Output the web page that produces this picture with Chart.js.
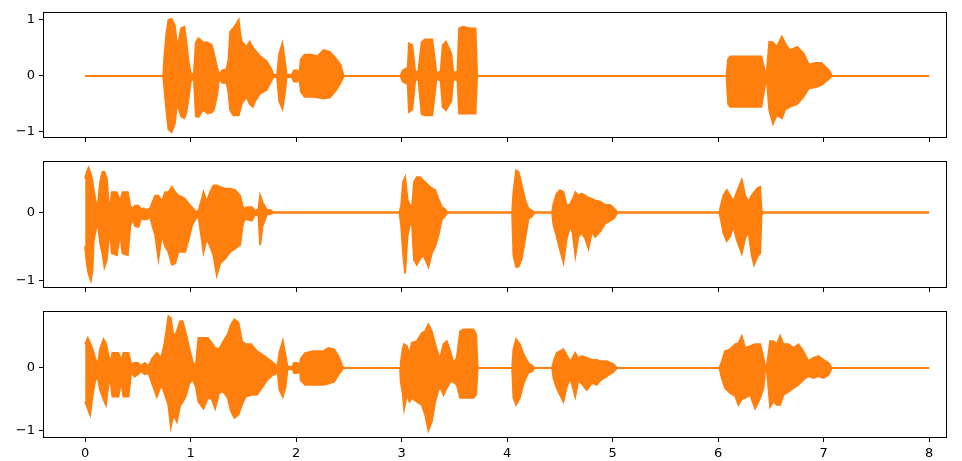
<!DOCTYPE html>
<html>
<head>
<meta charset="utf-8">
<script src="https://cdn.jsdelivr.net/npm/chart.js@4/dist/chart.umd.min.js"></script>
<style>
  body { margin: 0; background: #fff; width: 962px; height: 461px; overflow: hidden; position: relative; }
  canvas { position: absolute; left: 0; }
</style>
</head>
<body>
<canvas id="wave1" width="962" height="150" style="top:0px"></canvas>
<canvas id="wave2" width="962" height="150" style="top:150px"></canvas>
<canvas id="wave3" width="962" height="161" style="top:300px"></canvas>
<script>
const ORANGE = "#ff7f0e";

const xTicks = [0, 1, 2, 3, 4, 5, 6, 7, 8];
const yTicks = [-1, 0, 1];

// envelope of each waveform: time (s), upper peak, lower peak
const time1 = [0, 0.74, 0.75, 0.77, 0.79, 0.82, 0.85, 0.87, 0.89, 0.91, 0.94, 0.96, 0.98, 1.00, 1.03,
  1.05, 1.075, 1.12, 1.16, 1.2, 1.22, 1.25, 1.27, 1.3, 1.34, 1.36, 1.375, 1.405, 1.44, 1.455,
  1.47, 1.485, 1.53, 1.56, 1.59, 1.61, 1.66, 1.72, 1.76, 1.785, 1.82, 1.84, 1.87, 1.89, 1.91,
  1.96, 1.98, 2.01, 2.03, 2.045, 2.08, 2.15, 2.2, 2.26, 2.32, 2.38, 2.42, 2.45, 2.99, 3.01,
  3.04, 3.055, 3.07, 3.1, 3.13, 3.16, 3.19, 3.22, 3.29, 3.33, 3.37, 3.39, 3.42, 3.47, 3.49,
  3.53, 3.545, 3.58, 3.65, 3.7, 3.715, 6.08, 6.095, 6.115, 6.41, 6.44, 6.46, 6.485, 6.52, 6.556,
  6.604, 6.635, 6.68, 6.75, 6.81, 6.86, 6.92, 6.98, 7.05, 7.08, 8];
const hi1 = [0, 0, 0.3, 0.75, 1.0, 1.02, 0.9, 0.55, 0.65, 0.85, 0.88, 0.6, 0.25, 0.05, 0.02,
  0.6, 0.67, 0.6, 0.6, 0.55, 0.4, 0.15, 0.02, 0.1, 0.12, 0.3, 0.79, 0.85, 0.95, 1.0,
  0.75, 0.61, 0.52, 0.61, 0.5, 0.46, 0.35, 0.26, 0.14, 0.02, 0.02, 0.4, 0.58, 0.3, 0.02,
  0.02, 0.1, 0.1, 0.02, 0.29, 0.38, 0.38, 0.35, 0.46, 0.43, 0.3, 0.2, 0, 0, 0.1,
  0.13, 0.02, 0.58, 0.55, 0.05, 0.1, 0.6, 0.65, 0.65, 0.05, 0.08, 0.55, 0.61, 0.4, 0.05,
  0.08, 0.85, 0.88, 0.85, 0.85, 0, 0, 0.3, 0.35, 0.35, 0.1, 0.02, 0.61, 0.6, 0.52,
  0.7, 0.58, 0.46, 0.52, 0.4, 0.2, 0.23, 0.23, 0.1, 0, 0];
const lo1 = [0, 0, -0.2, -0.6, -0.95, -1.0, -0.85, -0.5, -0.6, -0.72, -0.75, -0.65, -0.4, -0.1, -0.02,
  -0.72, -0.73, -0.6, -0.67, -0.65, -0.6, -0.35, -0.03, -0.12, -0.12, -0.3, -0.61, -0.7, -0.7, -0.7,
  -0.6, -0.49, -0.37, -0.5, -0.55, -0.45, -0.31, -0.25, -0.1, -0.02, -0.02, -0.45, -0.58, -0.35, -0.02,
  -0.02, -0.1, -0.1, -0.02, -0.28, -0.37, -0.37, -0.38, -0.4, -0.38, -0.25, -0.12, 0, 0, -0.1,
  -0.13, -0.02, -0.64, -0.6, -0.05, -0.08, -0.68, -0.7, -0.7, -0.05, -0.08, -0.55, -0.61, -0.45, -0.05,
  -0.08, -0.67, -0.67, -0.67, -0.67, 0, 0, -0.5, -0.55, -0.55, -0.2, -0.02, -0.61, -0.85, -0.7,
  -0.75, -0.6, -0.55, -0.5, -0.37, -0.22, -0.2, -0.16, -0.05, 0, 0];

const time2 = [0, 0.016, 0.032, 0.054, 0.07, 0.079, 0.101, 0.12, 0.142, 0.164, 0.183, 0.205, 0.221, 0.237, 0.253,
  0.3, 0.332, 0.354, 0.404, 0.427, 0.449, 0.474, 0.506, 0.531, 0.553, 0.585, 0.616, 0.638, 0.664, 0.695,
  0.727, 0.758, 0.79, 0.822, 0.853, 0.885, 0.917, 0.948, 0.98, 1.011, 1.043, 1.074, 1.106, 1.122, 1.153,
  1.185, 1.216, 1.248, 1.28, 1.327, 1.374, 1.422, 1.469, 1.491, 1.51, 1.532, 1.58, 1.611, 1.643, 1.659,
  1.681, 1.722, 1.763, 1.785,
  2.98, 2.996, 3.014, 3.033, 3.055, 3.081, 3.1, 3.118, 3.144, 3.175, 3.207, 3.254, 3.286, 3.318, 3.349,
  3.381, 3.412, 3.434,
  4.048, 4.06, 4.085, 4.107, 4.139, 4.171, 4.202, 4.234, 4.256,
  4.427, 4.44, 4.47, 4.502, 4.533, 4.565, 4.597, 4.622, 4.647, 4.676, 4.708, 4.739, 4.771, 4.803, 4.834,
  4.882, 4.929, 4.977, 5.014, 5.046,
  6.013, 6.026, 6.05, 6.082, 6.114, 6.145, 6.177, 6.224, 6.256, 6.288, 6.319, 6.341, 6.373, 6.398, 6.41,
  6.42, 8];
const hi2 = [0.5, 0.6, 0.66, 0.57, 0.45, 0.35, 0.15, 0.1, 0.45, 0.6, 0.6, 0.5, 0.16, 0.1, 0.3,
  0.3, 0.16, 0.3, 0.3, 0.1, 0.06, 0.1, 0.1, 0.05, 0.06, 0.04, 0.06, 0.15, 0.25, 0.25,
  0.16, 0.3, 0.3, 0.38, 0.3, 0.25, 0.23, 0.2, 0.13, 0.08, 0.02, 0.02, 0.2, 0.3, 0.16,
  0.3, 0.4, 0.4, 0.38, 0.35, 0.35, 0.33, 0.25, 0.1, 0.05, 0.08, 0.08, 0.02, 0.05, 0.25,
  0.15, 0.04, 0.03, 0,
  0, 0.1, 0.45, 0.52, 0.2, 0.1, 0.1, 0.45, 0.52, 0.52, 0.47, 0.4, 0.36, 0.33, 0.2,
  0.08, 0.05, 0,
  0, 0.3, 0.62, 0.6, 0.4, 0.18, 0.06, 0.03, 0,
  0, 0.13, 0.28, 0.33, 0.3, 0.1, 0.12, 0.2, 0.3, 0.25, 0.28, 0.25, 0.22, 0.2, 0.18,
  0.16, 0.11, 0.11, 0.06, 0,
  0, 0.1, 0.25, 0.33, 0.25, 0.16, 0.3, 0.48, 0.25, 0.16, 0.25, 0.3, 0.36, 0.38, 0.05,
  0, 0];
const lo2 = [-0.5, -0.75, -0.9, -1.0, -0.85, -0.43, -0.25, -0.15, -0.45, -0.6, -0.8, -0.7, -0.43, -0.3, -0.6,
  -0.63, -0.3, -0.6, -0.63, -0.2, -0.1, -0.2, -0.21, -0.08, -0.1, -0.1, -0.06, -0.2, -0.33, -0.68,
  -0.33, -0.5, -0.58, -0.77, -0.75, -0.58, -0.58, -0.58, -0.4, -0.2, -0.1, -0.05, -0.4, -0.58, -0.38,
  -0.5, -0.63, -0.92, -0.75, -0.68, -0.58, -0.53, -0.48, -0.2, -0.1, -0.1, -0.12, -0.03, -0.05, -0.48,
  -0.2, -0.03, -0.02, 0,
  0, -0.2, -0.6, -0.9, -0.35, -0.15, -0.2, -0.7, -0.77, -0.68, -0.63, -0.8, -0.6, -0.5, -0.33,
  -0.1, -0.05, 0,
  0, -0.63, -0.8, -0.8, -0.68, -0.38, -0.09, -0.06, 0,
  0, -0.19, -0.35, -0.55, -0.73, -0.38, -0.2, -0.3, -0.63, -0.35, -0.3, -0.38, -0.53, -0.28, -0.36,
  -0.28, -0.16, -0.12, -0.08, 0,
  0, -0.1, -0.3, -0.42, -0.35, -0.2, -0.4, -0.6, -0.38, -0.28, -0.63, -0.77, -0.65, -0.6, -0.05,
  0, 0];

const time3 = [0, 0.025, 0.047, 0.07, 0.095, 0.12, 0.142, 0.174, 0.196, 0.221, 0.24, 0.259, 0.316, 0.341, 0.363,
  0.411, 0.436, 0.468, 0.5, 0.531, 0.563, 0.601, 0.639, 0.68, 0.721, 0.752, 0.79, 0.812, 0.837, 0.869,
  0.9, 0.923, 0.955, 0.986, 1.018, 1.049, 1.074, 1.122, 1.163, 1.201, 1.232, 1.27, 1.311, 1.352, 1.384,
  1.415, 1.453, 1.485, 1.523, 1.573, 1.627, 1.674, 1.722, 1.77, 1.801,
  1.823, 1.842, 1.874, 1.899, 1.918, 1.969, 1.98, 2.013, 2.033, 2.045, 2.085, 2.164, 2.259, 2.306, 2.36,
  2.401, 2.433, 2.449,
  2.985, 2.992, 3.01, 3.024, 3.049, 3.074, 3.096, 3.144, 3.191, 3.223, 3.254, 3.286, 3.318, 3.35, 3.365,
  3.397, 3.428, 3.46, 3.491, 3.523, 3.555, 3.586, 3.634, 3.681, 3.706, 3.72,
  4.048, 4.06, 4.085, 4.12, 4.155, 4.2, 4.24, 4.256,
  4.427, 4.44, 4.47, 4.533, 4.565, 4.6, 4.645, 4.676, 4.708, 4.755, 4.803, 4.85, 4.882, 4.945, 5.008, 5.04,
  6.013, 6.035, 6.066, 6.114, 6.161, 6.193, 6.224, 6.256, 6.303, 6.351, 6.398, 6.43, 6.445, 6.461, 6.477,
  6.493, 6.524, 6.556, 6.588, 6.619, 6.667, 6.714, 6.761, 6.808, 6.856, 6.903, 6.951, 6.998, 7.046, 7.077, 8];
const hi3 = [0.38, 0.48, 0.4, 0.3, 0.16, 0.05, 0.3, 0.46, 0.4, 0.2, 0.1, 0.24, 0.24, 0.12, 0.24,
  0.24, 0.06, 0.08, 0.08, 0.03, 0.08, 0.03, 0.16, 0.24, 0.16, 0.38, 0.83, 0.8, 0.5, 0.58,
  0.75, 0.75, 0.55, 0.32, 0.1, 0.02, 0.48, 0.48, 0.48, 0.4, 0.32, 0.3, 0.43, 0.54, 0.7,
  0.78, 0.73, 0.43, 0.38, 0.38, 0.27, 0.22, 0.16, 0.1, 0.05,
  0.03, 0.25, 0.43, 0.2, 0.02, 0.02, 0.08, 0.08, 0.02, 0.15, 0.24, 0.27, 0.27, 0.32, 0.3,
  0.19, 0.05, 0,
  0, 0.08, 0.3, 0.38, 0.35, 0.22, 0.4, 0.43, 0.56, 0.59, 0.7, 0.59, 0.38, 0.2, 0.16,
  0.38, 0.43, 0.27, 0.08, 0.16, 0.59, 0.62, 0.62, 0.62, 0.54, 0,
  0, 0.3, 0.46, 0.38, 0.22, 0.08, 0.03, 0,
  0, 0.1, 0.24, 0.3, 0.2, 0.1, 0.24, 0.15, 0.19, 0.16, 0.13, 0.13, 0.11, 0.11, 0.06, 0,
  0, 0.1, 0.27, 0.3, 0.38, 0.4, 0.51, 0.32, 0.35, 0.38, 0.38, 0.16, 0.02, 0.02, 0.22,
  0.43, 0.43, 0.38, 0.51, 0.38, 0.38, 0.32, 0.38, 0.27, 0.11, 0.16, 0.19, 0.13, 0.08, 0, 0];
const lo3 = [-0.54, -0.65, -0.75, -0.45, -0.2, -0.15, -0.35, -0.5, -0.59, -0.27, -0.2, -0.46, -0.46, -0.2, -0.46,
  -0.46, -0.06, -0.14, -0.1, -0.05, -0.1, -0.08, -0.27, -0.46, -0.27, -0.4, -0.6, -0.94, -0.75, -0.86,
  -0.6, -0.55, -0.45, -0.25, -0.18, -0.3, -0.54, -0.65, -0.48, -0.5, -0.65, -0.4, -0.38, -0.48, -0.7,
  -0.8, -0.75, -0.59, -0.46, -0.43, -0.43, -0.32, -0.2, -0.12, -0.1,
  -0.03, -0.35, -0.46, -0.3, -0.02, -0.02, -0.08, -0.08, -0.02, -0.2, -0.27, -0.27, -0.27, -0.25, -0.22,
  -0.11, -0.03, 0,
  0, -0.22, -0.4, -0.65, -0.43, -0.54, -0.48, -0.54, -0.59, -0.75, -1.0, -0.86, -0.54, -0.35, -0.3,
  -0.43, -0.32, -0.22, -0.22, -0.27, -0.48, -0.48, -0.48, -0.48, -0.43, 0,
  0, -0.48, -0.59, -0.48, -0.25, -0.08, -0.05, 0,
  0, -0.16, -0.32, -0.54, -0.3, -0.16, -0.46, -0.2, -0.25, -0.35, -0.24, -0.27, -0.2, -0.13, -0.06, 0,
  0, -0.16, -0.32, -0.4, -0.45, -0.59, -0.5, -0.48, -0.43, -0.65, -0.48, -0.32, -0.02, -0.02, -0.32,
  -0.62, -0.54, -0.59, -0.59, -0.43, -0.38, -0.32, -0.27, -0.19, -0.13, -0.16, -0.13, -0.16, -0.11, 0, 0];

Chart.defaults.font.family = "'DejaVu Sans', sans-serif";
Chart.defaults.font.size = 13;
Chart.defaults.color = "#000";

const frame = {
  id: "frame",
  afterDraw(chart) {
    const a = chart.chartArea, ctx = chart.ctx;
    const l = Math.round(a.left) - 0.5, t = Math.round(a.top) - 0.5;
    const r = Math.round(a.right) + 0.5, b = Math.round(a.bottom) + 0.5;
    ctx.save();
    ctx.strokeStyle = "#000";
    ctx.lineWidth = 1;
    ctx.strokeRect(l, t, r - l, b - t);
    ctx.restore();
  }
};

const fmt = v => String(v).replace("-", "\u2212");

function makePanel(id, time, hi, lo, yMin, yMax, padTop, xAxisH, showX) {
  return new Chart(document.getElementById(id), {
    type: "line",
    data: {
      datasets: [
        { data: time.map((t, i) => ({ x: t, y: hi[i] })), borderColor: ORANGE, backgroundColor: ORANGE,
          borderWidth: 2, pointRadius: 0, tension: 0, fill: "+1" },
        { data: time.map((t, i) => ({ x: t, y: lo[i] })), borderColor: ORANGE, backgroundColor: ORANGE,
          borderWidth: 2, pointRadius: 0, tension: 0, fill: false }
      ]
    },
    options: {
      responsive: false,
      animation: false,
      devicePixelRatio: 1,
      layout: { padding: { top: padTop, right: 16, left: 0, bottom: 0 } },
      plugins: { legend: { display: false }, tooltip: { enabled: false } },
      scales: {
        x: {
          type: "linear", min: -0.39, max: 8.16,
          afterBuildTicks: s => { s.ticks = xTicks.map(v => ({ value: v })); },
          afterFit: s => { s.height = xAxisH; },
          ticks: { display: showX, padding: 4, callback: fmt, maxRotation: 0 },
          grid: { drawOnChartArea: false, drawTicks: true, tickLength: 5, color: "#000" },
          border: { display: false }
        },
        y: {
          min: yMin, max: yMax,
          afterBuildTicks: s => { s.ticks = yTicks.filter(v => v >= s.min && v <= s.max).map(v => ({ value: v })); },
          afterFit: s => { s.width = 44; },
          ticks: { padding: 4, callback: fmt },
          grid: { drawOnChartArea: false, drawTicks: true, tickLength: 5, color: "#000" },
          border: { display: false }
        }
      }
    },
    plugins: [frame]
  });
}

makePanel("wave1", time1, hi1, lo1, -1.09, 1.125, 13, 13, false);
makePanel("wave2", time2, hi2, lo2, -1.10, 0.75, 11, 13, false);
makePanel("wave3", time3, hi3, lo3, -1.11, 0.9, 12, 24, true);
</script>
</body>
</html>
